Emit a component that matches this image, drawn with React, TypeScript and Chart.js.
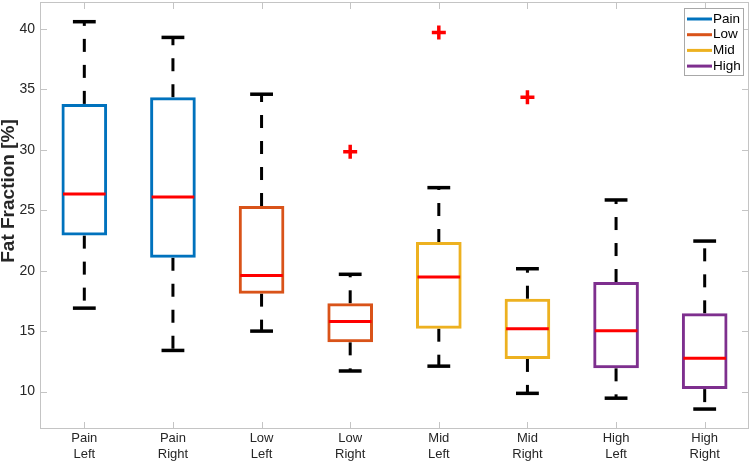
import React, { useEffect, useRef } from "react";
import { Chart, registerables } from "chart.js";

Chart.register(...registerables);

const categories: string[][] = [
  ["Pain", "Left"],
  ["Pain", "Right"],
  ["Low", "Left"],
  ["Low", "Right"],
  ["Mid", "Left"],
  ["Mid", "Right"],
  ["High", "Left"],
  ["High", "Right"],
];
const groupNames = ["Pain", "Low", "Mid", "High"];
const groupColors = ["#0072BD", "#D95319", "#EDB120", "#7E2F8E"];
const groupOfCategory = [0, 0, 1, 1, 2, 2, 3, 3];

const whiskerLow = [16.9, 13.4, 15.0, 11.7, 12.1, 9.85, 9.45, 8.55];
const q1 = [22.9, 21.07, 18.1, 14.07, 15.2, 12.7, 11.92, 10.2];
const median = [26.35, 26.1, 19.6, 15.8, 19.47, 15.2, 15.03, 12.75];
const q3 = [33.8, 34.35, 25.35, 17.3, 22.37, 17.68, 19.06, 16.47];
const whiskerHigh = [40.6, 39.3, 34.6, 19.7, 26.87, 20.16, 25.85, 22.45];
const outliers: (number | null)[] = [null, null, null, 29.85, 39.7, 34.35, null, null];

const yTicks = [10, 15, 20, 25, 30, 35, 40];
const yMin = 6.9;
const yMax = 42.23;
const yTitle = "Fat Fraction [%]";

const FONT = "'Liberation Sans', Arial, Helvetica, sans-serif";
const TEXT = "#262626";
const AXIS = "#c4c4c4";

function boxRect(chart: any, i: number) {
  const el: any = chart.getDatasetMeta(groupOfCategory[i]).data[i];
  return { x: el.x as number, w: el.width as number };
}

const boxPartsPlugin = {
  id: "boxParts",
  beforeDatasetsDraw(chart: any) {
    const { ctx, scales } = chart;
    const y = scales.y;
    ctx.save();
    ctx.strokeStyle = "#000";
    ctx.lineCap = "butt";
    for (let i = 0; i < categories.length; i++) {
      const { x, w } = boxRect(chart, i);
      ctx.lineWidth = 3;
      ctx.setLineDash([13, 13]);
      ctx.beginPath();
      ctx.moveTo(x, y.getPixelForValue(q3[i]));
      ctx.lineTo(x, y.getPixelForValue(whiskerHigh[i]));
      ctx.stroke();
      ctx.beginPath();
      ctx.moveTo(x, y.getPixelForValue(q1[i]));
      ctx.lineTo(x, y.getPixelForValue(whiskerLow[i]));
      ctx.stroke();
      ctx.setLineDash([]);
      ctx.lineWidth = 3.5;
      const cap = w / 4;
      for (const v of [whiskerHigh[i], whiskerLow[i]]) {
        const py = y.getPixelForValue(v);
        ctx.beginPath();
        ctx.moveTo(x - cap, py);
        ctx.lineTo(x + cap, py);
        ctx.stroke();
      }
    }
    ctx.restore();
  },
  afterDatasetsDraw(chart: any) {
    const { ctx, scales } = chart;
    const y = scales.y;
    ctx.save();
    ctx.strokeStyle = "#FF0000";
    ctx.lineWidth = 3;
    for (let i = 0; i < categories.length; i++) {
      const { x, w } = boxRect(chart, i);
      const py = y.getPixelForValue(median[i]);
      ctx.beginPath();
      ctx.moveTo(x - w / 2 + 1.5, py);
      ctx.lineTo(x + w / 2 - 1.5, py);
      ctx.stroke();
    }
    ctx.restore();
  },
};

const framePlugin = {
  id: "frameAndLegend",
  afterDraw(chart: any) {
    const { ctx, chartArea, scales } = chart;
    const { left, right, top, bottom } = chartArea;
    const x = scales.x;
    const y = scales.y;
    ctx.save();
    ctx.strokeStyle = AXIS;
    ctx.lineWidth = 1;
    ctx.strokeRect(left + 0.5, top + 0.5, right - left - 1, bottom - top - 1);
    const tl = 7;
    ctx.beginPath();
    for (const v of yTicks) {
      const py = Math.round(y.getPixelForValue(v)) + 0.5;
      ctx.moveTo(left, py);
      ctx.lineTo(left + tl, py);
      ctx.moveTo(right, py);
      ctx.lineTo(right - tl, py);
    }
    for (let i = 0; i < categories.length; i++) {
      const px = Math.round(x.getPixelForValue(i)) + 0.5;
      ctx.moveTo(px, bottom);
      ctx.lineTo(px, bottom - tl);
      ctx.moveTo(px, top);
      ctx.lineTo(px, top + tl);
    }
    ctx.stroke();

    // y-axis title
    ctx.save();
    ctx.translate(9, 191);
    ctx.rotate(-Math.PI / 2);
    ctx.font = `bold 19px ${FONT}`;
    ctx.fillStyle = TEXT;
    ctx.textAlign = "center";
    ctx.textBaseline = "middle";
    ctx.fillText(yTitle, 0, 0);
    ctx.restore();

    // legend
    const lx = right - 65;
    const ly = top + 6;
    const lw = 60;
    const lh = 68;
    ctx.fillStyle = "#fff";
    ctx.fillRect(lx, ly, lw, lh);
    ctx.strokeStyle = "#a8a8a8";
    ctx.lineWidth = 1;
    ctx.strokeRect(lx + 0.5, ly + 0.5, lw - 1, lh - 1);
    ctx.font = `13.5px ${FONT}`;
    ctx.textBaseline = "middle";
    ctx.textAlign = "left";
    for (let g = 0; g < groupNames.length; g++) {
      const iy = ly + 11 + g * 15.7;
      ctx.strokeStyle = groupColors[g];
      ctx.lineWidth = 3;
      ctx.beginPath();
      ctx.moveTo(lx + 3, iy);
      ctx.lineTo(lx + 28, iy);
      ctx.stroke();
      ctx.fillStyle = "#000";
      ctx.fillText(groupNames[g], lx + 29, iy);
    }
    ctx.restore();
  },
};

export default function App() {
  const canvasRef = useRef<HTMLCanvasElement | null>(null);

  useEffect(() => {
    const canvas = canvasRef.current;
    if (!canvas) return;

    const barDatasets = groupNames.map((name, g) => ({
      type: "bar" as const,
      label: name,
      data: categories.map((_, i) =>
        groupOfCategory[i] === g ? [q1[i], q3[i]] : null
      ),
      backgroundColor: "rgba(255,255,255,0)",
      borderColor: groupColors[g],
      borderWidth: 3,
      borderSkipped: false,
      grouped: false,
      barPercentage: 0.515,
      categoryPercentage: 1,
    }));

    const outlierDataset = {
      type: "line" as const,
      label: "Outliers",
      data: outliers,
      showLine: false,
      pointStyle: "cross",
      pointRadius: 7,
      pointBorderWidth: 3.5,
      pointBorderColor: "#FF0000",
      pointBackgroundColor: "#FF0000",
      order: -1,
    };

    const chart = new Chart(canvas, {
      type: "bar",
      data: {
        labels: categories,
        datasets: [...barDatasets, outlierDataset] as any,
      },
      options: {
        animation: false,
        responsive: false,
        maintainAspectRatio: false,
        layout: { autoPadding: false, padding: { left: 0, right: 3, top: 2, bottom: 0 } },
        plugins: {
          legend: { display: false },
          tooltip: { enabled: false },
        },
        scales: {
          x: {
            offset: true,
            grid: { display: false, drawTicks: false },
            border: { display: false },
            ticks: {
              font: { family: FONT, size: 13, lineHeight: 1.2 },
              color: TEXT,
              padding: 2,
              maxRotation: 0,
              autoSkip: false,
            },
            afterFit: (s: any) => {
              s.height = 33;
              s.paddingLeft = 0;
              s.paddingRight = 0;
            },
          },
          y: {
            min: yMin,
            max: yMax,
            grid: { display: false, drawTicks: false },
            border: { display: false },
            ticks: {
              font: { family: FONT, size: 14 },
              color: TEXT,
              padding: 5,
            },
            afterBuildTicks: (s: any) => {
              s.ticks = yTicks.map((v) => ({ value: v }));
            },
            afterFit: (s: any) => {
              s.width = 40;
              s.paddingTop = 0;
              s.paddingBottom = 0;
            },
          },
        },
      } as any,
      plugins: [boxPartsPlugin, framePlugin],
    });

    return () => chart.destroy();
  }, []);

  return (
    <div style={{ position: "fixed", left: 0, top: 0, width: 752, height: 462, background: "#fff" }}>
      <canvas ref={canvasRef} width={752} height={462} style={{ display: "block" }} />
    </div>
  );
}
